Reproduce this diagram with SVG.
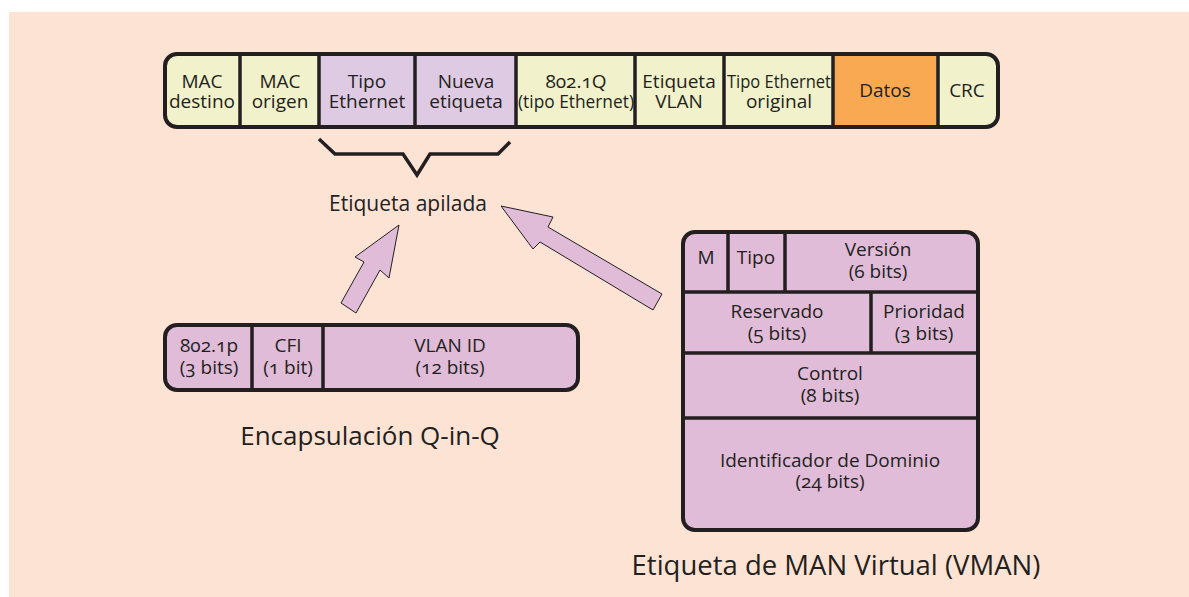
<svg xmlns="http://www.w3.org/2000/svg" width="1189" height="597" viewBox="0 0 1189 597">
  <style>
    .t { font-family: "Open Sans", "Noto Sans", "Liberation Sans", sans-serif; font-size: 19px; fill: #231f20; text-anchor: middle; font-variant-numeric: oldstyle-nums; }
    .lbl { font-family: "Open Sans", "Noto Sans", "Liberation Sans", sans-serif; font-size: 21px; fill: #231f20; text-anchor: middle; }
    .cap { font-family: "Open Sans", "Noto Sans", "Liberation Sans", sans-serif; font-size: 26px; fill: #231f20; text-anchor: middle; }
    .frame { fill: none; stroke: #231f20; stroke-width: 4; }
    .div { stroke: #231f20; stroke-width: 3.5; fill: none; }
    .yel { fill: #f1f2cc; }
    .lav { fill: #dfcae3; }
    .org { fill: #f9a952; }
    .pnk { fill: #e0bcd9; }
    .arrow { fill: #e0bcd9; stroke: #231f20; stroke-width: 1; stroke-linejoin: miter; }
  </style>
  <defs>
    <clipPath id="clipFrame"><rect x="165" y="54" width="833" height="73" rx="12"/></clipPath>
    <clipPath id="clipQ"><rect x="165" y="325" width="413" height="65" rx="12"/></clipPath>
    <clipPath id="clipV"><rect x="683" y="232" width="295" height="298" rx="12"/></clipPath>
  </defs>

  <!-- background panel -->
  <rect x="0" y="0" width="1189" height="597" fill="#ffffff"/>
  <rect x="9" y="12" width="1180" height="585" fill="#fde3d4"/>

  <!-- Ethernet frame with stacked tag -->
  <g id="frame">
    <g clip-path="url(#clipFrame)">
      <rect class="yel" x="165" y="54" width="75" height="73"/>
      <rect class="yel" x="240" y="54" width="79" height="73"/>
      <rect class="lav" x="319" y="54" width="96" height="73"/>
      <rect class="lav" x="415" y="54" width="101" height="73"/>
      <rect class="yel" x="516" y="54" width="119" height="73"/>
      <rect class="yel" x="635" y="54" width="89" height="73"/>
      <rect class="yel" x="724" y="54" width="109" height="73"/>
      <rect class="org" x="833" y="54" width="105" height="73"/>
      <rect class="yel" x="938" y="54" width="60" height="73"/>
    </g>
    <path class="div" d="M240 54V127M319 54V127M415 54V127M516 54V127M635 54V127M724 54V127M833 54V127M938 54V127"/>
    <rect class="frame" x="165" y="54" width="833" height="73" rx="12"/>
    <text class="t"><tspan x="202" y="88">MAC</tspan><tspan x="202" y="108">destino</tspan></text>
    <text class="t"><tspan x="280" y="88">MAC</tspan><tspan x="280" y="108">origen</tspan></text>
    <text class="t"><tspan x="367" y="88">Tipo</tspan><tspan x="367" y="108">Ethernet</tspan></text>
    <text class="t"><tspan x="466" y="88">Nueva</tspan><tspan x="466" y="108">etiqueta</tspan></text>
    <text class="t"><tspan x="576" y="88">802.1Q</tspan><tspan x="576" y="108" textLength="116" lengthAdjust="spacingAndGlyphs">(tipo Ethernet)</tspan></text>
    <text class="t"><tspan x="679" y="88">Etiqueta</tspan><tspan x="679" y="108">VLAN</tspan></text>
    <text class="t"><tspan x="779" y="88" textLength="104" lengthAdjust="spacingAndGlyphs">Tipo Ethernet</tspan><tspan x="779" y="108">original</tspan></text>
    <text class="t" x="885" y="97">Datos</text>
    <text class="t" x="967" y="97">CRC</text>
  </g>

  <!-- brace over the stacked tag -->
  <g id="brace">
    <path d="M319 139L335 154H403L417 175L430 154H498L510 142" fill="none" stroke="#231f20" stroke-width="3.5" stroke-linejoin="miter"/>
    <text class="lbl" x="408" y="211">Etiqueta apilada</text>
  </g>

  <!-- Q-in-Q tag -->
  <g id="qinq">
    <g clip-path="url(#clipQ)">
      <rect class="pnk" x="165" y="325" width="413" height="65"/>
    </g>
    <path class="div" d="M252 325V390M323 325V390"/>
    <rect class="frame" x="165" y="325" width="413" height="65" rx="12"/>
    <text class="t"><tspan x="209" y="352">802.1p</tspan><tspan x="209" y="374">(3 bits)</tspan></text>
    <text class="t"><tspan x="288" y="352">CFI</tspan><tspan x="288" y="374">(1 bit)</tspan></text>
    <text class="t"><tspan x="450" y="352">VLAN ID</tspan><tspan x="450" y="374">(12 bits)</tspan></text>
    <text class="cap" x="370" y="445">Encapsulación Q-in-Q</text>
  </g>

  <!-- VMAN tag -->
  <g id="vman">
    <g clip-path="url(#clipV)">
      <rect class="pnk" x="683" y="232" width="295" height="298"/>
    </g>
    <path class="div" d="M728 232V292M785 232V292M683 292H978M871 292V353M683 353H978M683 418H978"/>
    <rect class="frame" x="683" y="232" width="295" height="298" rx="12"/>
    <text class="t" x="706" y="264">M</text>
    <text class="t" x="756" y="264">Tipo</text>
    <text class="t"><tspan x="878" y="256">Versión</tspan><tspan x="878" y="278">(6 bits)</tspan></text>
    <text class="t"><tspan x="777" y="318">Reservado</tspan><tspan x="777" y="340">(5 bits)</tspan></text>
    <text class="t"><tspan x="924" y="318">Prioridad</tspan><tspan x="924" y="340">(3 bits)</tspan></text>
    <text class="t"><tspan x="830" y="380">Control</tspan><tspan x="830" y="402">(8 bits)</tspan></text>
    <text class="t"><tspan x="830" y="467">Identificador de Dominio</tspan><tspan x="830" y="488">(24 bits)</tspan></text>
    <text class="cap" x="836" y="575" style="font-size:27.5px">Etiqueta de MAN Virtual (VMAN)</text>
  </g>

  <!-- arrows pointing at the stacked tag -->
  <g id="connectors">
    <polygon class="arrow" points="399,225 389,278 380,270 356,313 341,303 364,262 355,257"/>
    <polygon class="arrow" points="501,206 553,217 548,227 662,294 653,310 540,242 533,249"/>
  </g>
</svg>
